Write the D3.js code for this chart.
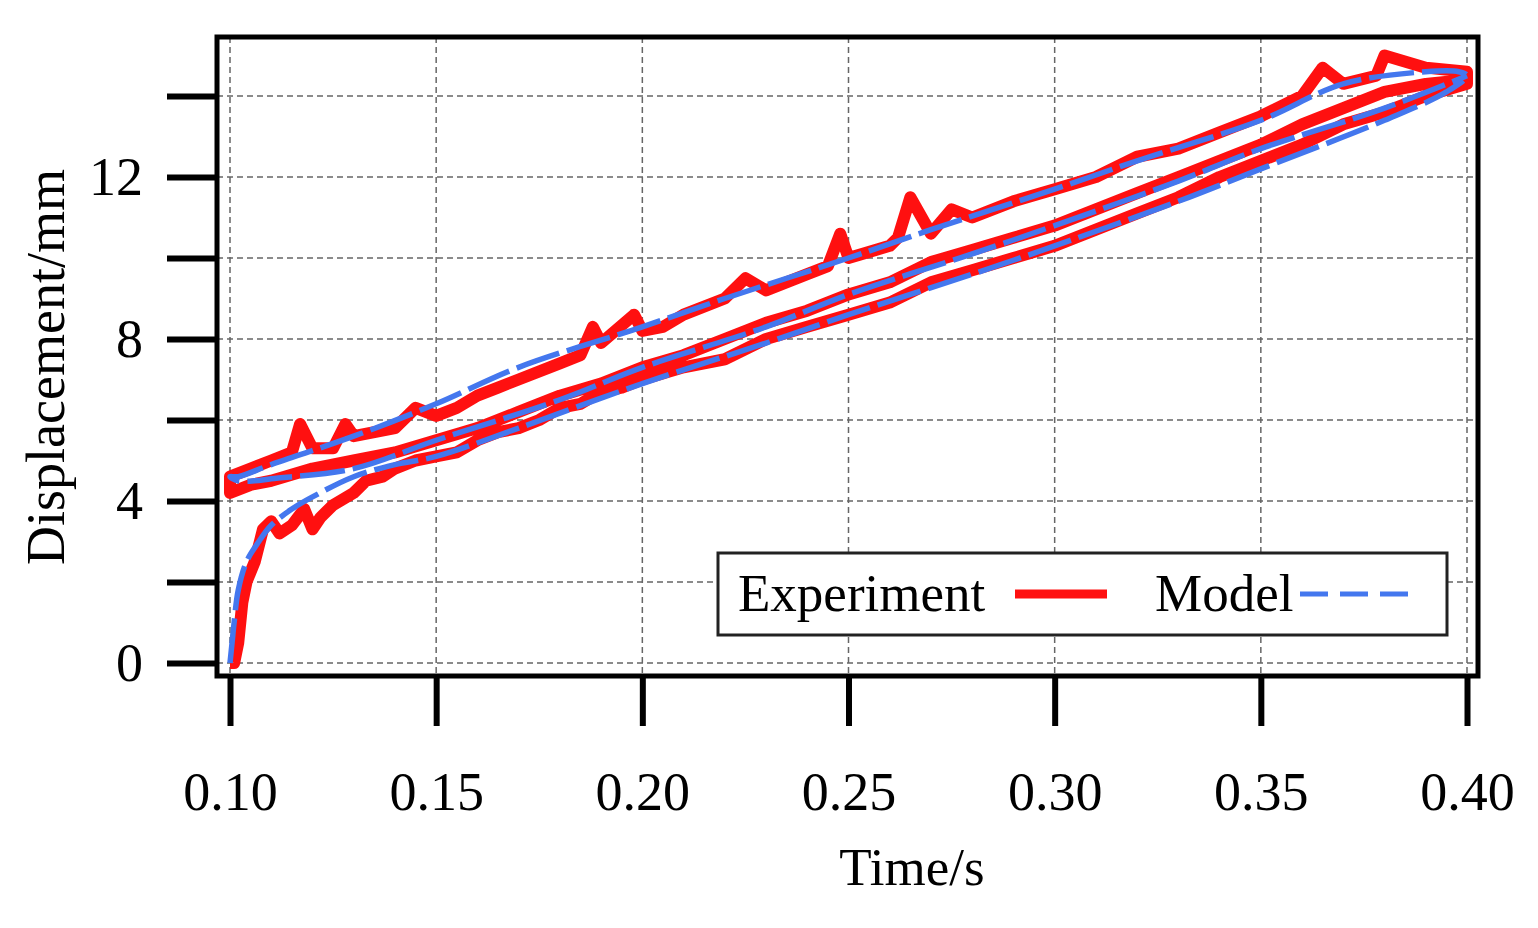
<!DOCTYPE html>
<html><head><meta charset="utf-8">
<script src="https://cdn.jsdelivr.net/npm/d3@7"></script>
<style>body{margin:0;background:#fff}text{font-family:"Liberation Serif",serif}</style>
</head><body><div id="chart"></div>
<script>
// data
const xTicks = [0.10, 0.15, 0.20, 0.25, 0.30, 0.35, 0.40];
const yTicks = [0, 2, 4, 6, 8, 10, 12, 14];
const yLabels = [0, 4, 8, 12];

const expT = [0.100,0.101,0.102,0.103,0.104,0.106,0.108,0.110,0.112,0.115,0.118,0.120,0.122,0.125,0.130,0.133,0.137,0.140,0.145,0.150,0.155,0.160,0.165,0.170,0.175,0.180,0.185,0.190,0.195,0.200,0.210,0.220,0.230,0.240,0.250,0.260,0.270,0.280,0.290,0.300,0.310,0.320,0.330,0.340,0.350,0.360,0.370,0.380,0.390,0.400,
  0.400,0.390,0.380,0.378,0.370,0.365,0.360,0.350,0.340,0.330,0.320,0.310,0.300,0.290,0.280,0.275,0.270,0.265,0.262,0.260,0.250,0.248,0.245,0.240,0.230,0.225,0.220,0.210,0.205,0.200,0.198,0.190,0.188,0.185,0.180,0.170,0.165,0.160,0.155,0.150,0.145,0.140,0.130,0.128,0.125,0.120,0.117,0.115,0.110,0.105,0.100,0.100,
  0.105,0.110,0.120,0.130,0.140,0.150,0.160,0.170,0.180,0.190,0.200,0.210,0.220,0.230,0.240,0.250,0.260,0.270,0.280,0.290,0.300,0.310,0.320,0.330,0.340,0.350,0.360,0.370,0.380,0.390,0.400];
const expV = [0,0,0.5,1.5,2.0,2.5,3.3,3.5,3.2,3.4,3.8,3.3,3.6,3.9,4.2,4.5,4.6,4.8,5.0,5.1,5.2,5.5,5.7,5.8,6.0,6.3,6.4,6.7,6.8,7.0,7.3,7.5,8.0,8.3,8.6,8.9,9.4,9.7,10.0,10.3,10.7,11.1,11.5,12.0,12.4,12.8,13.3,13.6,14.0,14.3,
  14.6,14.7,15.0,14.5,14.3,14.7,14.0,13.5,13.1,12.7,12.5,12.0,11.7,11.4,11.0,11.2,10.6,11.5,10.5,10.3,10.0,10.6,9.8,9.6,9.2,9.5,9.0,8.6,8.3,8.2,8.6,7.9,8.3,7.6,7.4,7.0,6.8,6.6,6.3,6.1,6.3,5.8,5.6,5.9,5.3,5.3,5.9,5.2,5.0,4.8,4.6,4.2,
  4.4,4.5,4.8,5.0,5.2,5.5,5.8,6.2,6.6,6.9,7.3,7.6,8.0,8.4,8.7,9.1,9.4,9.9,10.2,10.5,10.8,11.2,11.6,12.0,12.4,12.8,13.3,13.7,14.1,14.3,14.4];

const modelT = [0.100,0.1005,0.101,0.102,0.104,0.107,0.110,0.115,0.120,0.13,0.14,0.15,0.17,0.20,0.23,0.25,0.28,0.30,0.33,0.35,0.38,0.395,0.400,
  0.398,0.39,0.37,0.35,0.32,0.30,0.27,0.25,0.22,0.20,0.17,0.15,0.13,0.11,0.102,0.100,
  0.102,0.106,0.11,0.13,0.15,0.18,0.20,0.23,0.25,0.28,0.30,0.33,0.35,0.38,0.40];
const modelV = [0,0.5,1.0,1.8,2.5,3.0,3.4,3.8,4.1,4.6,4.9,5.1,5.8,6.9,7.9,8.6,9.6,10.3,11.4,12.2,13.4,14.1,14.5,
  14.6,14.6,14.3,13.4,12.4,11.7,10.7,10.0,9.0,8.3,7.3,6.4,5.6,4.9,4.6,4.6,
  4.5,4.5,4.55,4.8,5.5,6.5,7.3,8.3,9.1,10.1,10.8,11.9,12.7,13.7,14.5];

const width = 1538, height = 928;
const L = 217, R = 1478, T = 37, B = 676;

const svg = d3.select("#chart").append("svg")
  .attr("width", width).attr("height", height);

const x = d3.scaleLinear().domain([0.10, 0.40]).range([230, 1467]);
const y = d3.scaleLinear().domain([0, 12]).range([663, 177]);

// grid
svg.append("g").selectAll("line").data(xTicks).join("line")
  .attr("x1", d => x(d)).attr("x2", d => x(d)).attr("y1", T).attr("y2", B)
  .attr("stroke", "#666").attr("stroke-width", 1.5).attr("stroke-dasharray", "6,4");
svg.append("g").selectAll("line").data(yTicks).join("line")
  .attr("x1", L).attr("x2", R).attr("y1", d => y(d)).attr("y2", d => y(d))
  .attr("stroke", "#666").attr("stroke-width", 1.5).attr("stroke-dasharray", "6,4");

svg.append("clipPath").attr("id", "c").append("rect")
  .attr("x", L).attr("y", T).attr("width", R - L).attr("height", B - T);

const line = d3.line().x(d => x(d[0])).y(d => y(d[1]));
const g = svg.append("g").attr("clip-path", "url(#c)");
g.append("path").datum(expT.map((t, i) => [t, expV[i]]))
  .attr("d", line).attr("fill", "none").attr("stroke", "#ff1010")
  .attr("stroke-width", 12).attr("stroke-linejoin", "round");
g.append("path").datum(modelT.map((t, i) => [t, modelV[i]]))
  .attr("d", d3.line().curve(d3.curveCatmullRom).x(d => x(d[0])).y(d => y(d[1])))
  .attr("fill", "none").attr("stroke", "#4477ee")
  .attr("stroke-width", 5.5).attr("stroke-dasharray", "45,8");

// frame
svg.append("rect").attr("x", L).attr("y", T).attr("width", R - L).attr("height", B - T)
  .attr("fill", "none").attr("stroke", "#000").attr("stroke-width", 5);

// axes
const xAxis = svg.append("g").attr("transform", `translate(0,${B})`)
  .call(d3.axisBottom(x).tickValues(xTicks).tickSize(50).tickPadding(46).tickFormat(d3.format(".2f")));
const yAxis = svg.append("g").attr("transform", `translate(${L},0)`)
  .call(d3.axisLeft(y).tickValues(yTicks).tickSize(50).tickPadding(24)
    .tickFormat(d => yLabels.includes(d) ? d : ""));
[xAxis, yAxis].forEach(a => {
  a.select(".domain").remove();
  a.selectAll("line").attr("stroke", "#000").attr("stroke-width", 6);
  a.selectAll("text").attr("font-size", 54).attr("fill", "#000")
    .style("font-family", "Liberation Serif");
});

svg.append("text").attr("x", 912).attr("y", 885).attr("text-anchor", "middle")
  .attr("font-size", 53).text("Time/s");
svg.append("text").attr("transform", "translate(64,367) rotate(-90)")
  .attr("text-anchor", "middle").attr("font-size", 54).text("Displacement/mm");

// legend
const lg = svg.append("g");
lg.append("rect").attr("x", 718).attr("y", 553).attr("width", 729).attr("height", 82)
  .attr("fill", "#fff").attr("stroke", "#222").attr("stroke-width", 3);
lg.append("text").attr("x", 738).attr("y", 611).attr("font-size", 53).text("Experiment");
lg.append("line").attr("x1", 1015).attr("x2", 1107).attr("y1", 594).attr("y2", 594)
  .attr("stroke", "#ff1010").attr("stroke-width", 9);
lg.append("text").attr("x", 1155).attr("y", 611).attr("font-size", 53).text("Model");
lg.append("line").attr("x1", 1300).attr("x2", 1410).attr("y1", 594).attr("y2", 594)
  .attr("stroke", "#4477ee").attr("stroke-width", 5).attr("stroke-dasharray", "28,12");
</script></body></html>
